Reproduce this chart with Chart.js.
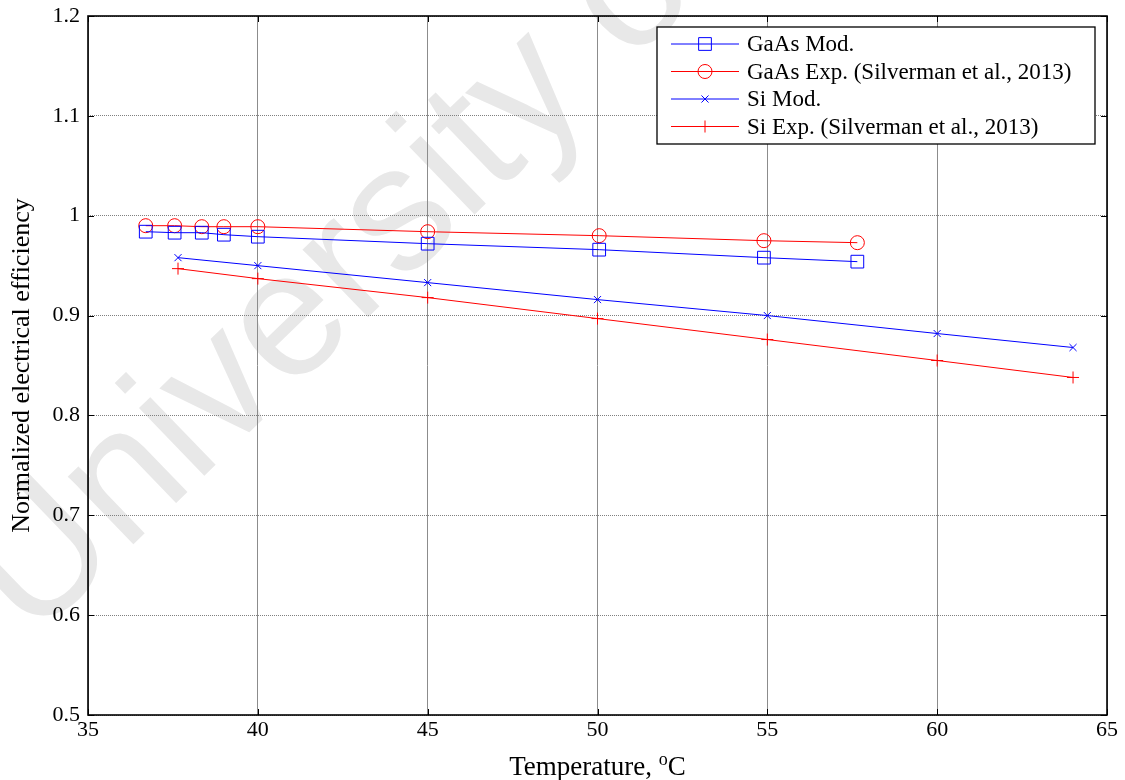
<!DOCTYPE html>
<html>
<head>
<meta charset="utf-8">
<script src="https://cdn.jsdelivr.net/npm/chart.js@4.4.0/dist/chart.umd.min.js"></script>
<style>
  html, body { margin: 0; padding: 0; background: #fff; }
  #wrap { width: 1125px; height: 780px; position: relative; }
</style>
</head>
<body>
<div id="wrap"><canvas id="effChart"></canvas></div>
<script>
// temperatures (°C) and normalized efficiencies
const tempGaAs = [36.7, 37.55, 38.35, 39.0, 40.0, 45.0, 50.05, 54.9, 57.65];
const effGaAsMod = [0.984, 0.983, 0.983, 0.981, 0.979, 0.972, 0.966, 0.958, 0.954];
const effGaAsExp = [0.990, 0.990, 0.989, 0.989, 0.989, 0.984, 0.980, 0.975, 0.973];

const tempSi = [37.65, 40.0, 45.0, 50.0, 55.0, 60.0, 64.0];
const effSiMod = [0.958, 0.950, 0.933, 0.916, 0.900, 0.882, 0.868];
const effSiExp = [0.947, 0.937, 0.918, 0.897, 0.876, 0.855, 0.838];

const seriesLabels = [
  "GaAs Mod.",
  "GaAs Exp. (Silverman et al., 2013)",
  "Si Mod.",
  "Si Exp. (Silverman et al., 2013)"
];

const xTicks = [35, 40, 45, 50, 55, 60, 65];
const yTicks = [0.5, 0.6, 0.7, 0.8, 0.9, 1.0, 1.1, 1.2];

const xTitle = ["Temperature, ", "o", "C"];
const yTitle = "Normalized electrical efficiency";
const watermark = "University of Cape Town";

const SERIF = "'Liberation Serif', 'Times New Roman', serif";
const BLUE = "#0000ff";
const RED = "#ff0000";

const toPoints = (xs, ys) => xs.map((x, i) => ({ x, y: ys[i] }));

function makeSet(label, data, color, style, radius) {
  return {
    label,
    data,
    borderColor: color,
    backgroundColor: "transparent",
    borderWidth: 1,
    pointStyle: style,
    pointRadius: radius,
    pointBorderColor: color,
    pointBackgroundColor: "transparent",
    pointBorderWidth: 1,
    tension: 0
  };
}

const datasets = [
  makeSet(seriesLabels[0], toPoints(tempGaAs, effGaAsMod), BLUE, "rect", 9),
  makeSet(seriesLabels[1], toPoints(tempGaAs, effGaAsExp), RED, "circle", 7),
  makeSet(seriesLabels[2], toPoints(tempSi, effSiMod), BLUE, "crossRot", 5),
  makeSet(seriesLabels[3], toPoints(tempSi, effSiExp), RED, "cross", 6)
];

// faint diagonal watermark behind the plot
const watermarkPlugin = {
  id: "watermark",
  beforeDraw(chart) {
    const ctx = chart.ctx;
    ctx.save();
    ctx.fillStyle = "#e8e8e8";
    ctx.font = "178px 'Liberation Sans', Arial, sans-serif";
    ctx.translate(32, 642);
    ctx.rotate(-44 * Math.PI / 180);
    ctx.fillText(watermark, 0, 0);
    ctx.restore();
  }
};

// box around axes + inward tick marks on all four sides, matlab style
const framePlugin = {
  id: "frame",
  afterDatasetsDraw(chart) {
    const { ctx, chartArea: a, scales: { x, y } } = chart;
    const len = 6;
    ctx.save();
    ctx.strokeStyle = "#000";
    ctx.lineWidth = 1;
    ctx.beginPath();
    xTicks.forEach(v => {
      const px = Math.round(x.getPixelForValue(v)) + 0.5;
      ctx.moveTo(px, a.bottom); ctx.lineTo(px, a.bottom - len);
      ctx.moveTo(px, a.top); ctx.lineTo(px, a.top + len);
    });
    yTicks.forEach(v => {
      const py = Math.round(y.getPixelForValue(v)) + 0.5;
      ctx.moveTo(a.left, py); ctx.lineTo(a.left + len, py);
      ctx.moveTo(a.right, py); ctx.lineTo(a.right - len, py);
    });
    ctx.stroke();
    ctx.lineWidth = 1.6;
    ctx.strokeRect(a.left, a.top, a.right - a.left, a.bottom - a.top);
    ctx.restore();
  }
};

// legend box in the upper right with line + marker samples
const legendPlugin = {
  id: "boxLegend",
  afterDraw(chart) {
    const ctx = chart.ctx;
    const box = { left: 657, top: 27, right: 1095, bottom: 144 };
    const rowY = [44, 71.5, 99, 126.5];
    ctx.save();
    ctx.fillStyle = "#fff";
    ctx.fillRect(box.left, box.top, box.right - box.left, box.bottom - box.top);
    ctx.strokeStyle = "#000";
    ctx.lineWidth = 1.3;
    ctx.strokeRect(box.left, box.top, box.right - box.left, box.bottom - box.top);

    chart.data.datasets.forEach((ds, i) => {
      const yy = rowY[i];
      ctx.strokeStyle = ds.borderColor;
      ctx.lineWidth = 1;
      ctx.beginPath();
      ctx.moveTo(671, yy);
      ctx.lineTo(739, yy);
      ctx.stroke();
      ctx.fillStyle = "rgba(0,0,0,0)";
      Chart.helpers.drawPoint(ctx, {
        pointStyle: ds.pointStyle,
        radius: ds.pointRadius,
        borderWidth: 1,
        rotation: 0
      }, 705, yy);
      ctx.fillStyle = "#000";
      ctx.font = "23px " + SERIF;
      ctx.textBaseline = "middle";
      ctx.textAlign = "left";
      ctx.fillText(ds.label, 747, yy + 1);
    });
    ctx.restore();
  }
};

// x title with a superscript "o" for degrees
const xTitlePlugin = {
  id: "xTitle",
  afterDraw(chart) {
    const { ctx, chartArea: a } = chart;
    const big = "27px " + SERIF;
    const small = "18px " + SERIF;
    ctx.save();
    ctx.fillStyle = "#000";
    ctx.textBaseline = "alphabetic";
    ctx.font = big;
    const w1 = ctx.measureText(xTitle[0]).width;
    const w3 = ctx.measureText(xTitle[2]).width;
    ctx.font = small;
    const w2 = ctx.measureText(xTitle[1]).width;
    let px = (a.left + a.right) / 2 - (w1 + w2 + w3) / 2;
    const base = 775;
    ctx.font = big;
    ctx.fillText(xTitle[0], px, base);
    px += w1;
    ctx.font = small;
    ctx.fillText(xTitle[1], px, base - 10);
    px += w2;
    ctx.font = big;
    ctx.fillText(xTitle[2], px, base);
    ctx.restore();
  }
};

const canvas = document.getElementById("effChart");

new Chart(canvas, {
  type: "line",
  data: { datasets },
  options: {
    responsive: true,
    maintainAspectRatio: false,
    animation: false,
    events: [],
    layout: { padding: { left: 0, right: 18, top: 16, bottom: 0 } },
    plugins: {
      legend: { display: false },
      tooltip: { enabled: false }
    },
    scales: {
      x: {
        type: "linear",
        min: 35,
        max: 65,
        afterBuildTicks: s => { s.ticks = xTicks.map(v => ({ value: v })); },
        afterFit: s => { s.height = 65; s.paddingLeft = 0; s.paddingRight = 0; },
        ticks: {
          color: "#000",
          padding: 2,
          font: { family: SERIF, size: 22 },
          callback: v => String(v)
        },
        grid: { color: "#8c8c8c", lineWidth: 1, drawTicks: false },
        border: { display: false }
      },
      y: {
        type: "linear",
        min: 0.5,
        max: 1.2,
        afterBuildTicks: s => { s.ticks = yTicks.map(v => ({ value: v })); },
        afterFit: s => { s.width = 88; s.paddingTop = 0; s.paddingBottom = 0; },
        ticks: {
          color: "#000",
          padding: 8,
          font: { family: SERIF, size: 22 },
          callback: v => String(Number(v.toFixed(1)))
        },
        grid: { color: "#808080", lineWidth: 1, drawTicks: false },
        border: { display: false, dash: [1, 1] },
        title: {
          display: true,
          text: yTitle,
          color: "#000",
          font: { family: SERIF, size: 26 },
          padding: { top: 7, bottom: 0 }
        }
      }
    }
  },
  plugins: [watermarkPlugin, framePlugin, legendPlugin, xTitlePlugin]
});
</script>
</body>
</html>
